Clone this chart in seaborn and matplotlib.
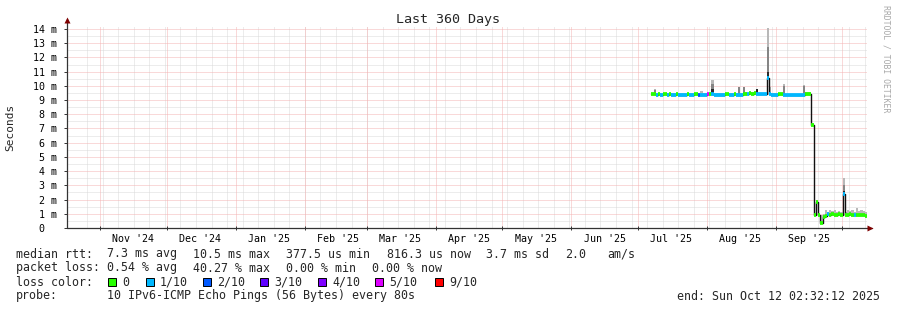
import numpy as np
import pandas as pd
import matplotlib
matplotlib.use("Agg")
import matplotlib.pyplot as plt
import seaborn as sns
from matplotlib.patches import Rectangle
from datetime import datetime, timedelta

# ---------------- data ----------------
START = datetime(2024, 10, 17, 2, 32, 12)
SPAN_DAYS = 360

days = list(range(263, 360))
median_ms = [
    9.40, 9.40, 9.38, 9.40, 9.38, 9.42, 9.40, 9.38, 9.40, 9.38,   # 263-272
    9.38, 9.40, 9.38, 9.38, 9.38, 9.38, 9.40, 9.38, 9.38, 9.40,   # 273-282
    9.40, 9.36, 9.38, 9.38, 9.38, 9.40, 9.40, 9.42, 9.38, 9.38,   # 283-292
    9.38, 9.38, 9.38, 9.40, 9.42, 9.38, 9.38, 9.42, 9.38, 9.38,   # 293-302
    9.38, 9.45, 9.45, 9.40, 9.48, 9.45, 9.48, 9.42, 9.40, 9.40,   # 303-312
    9.40, 9.42, 10.55, 9.40, 9.38, 9.38, 9.38, 9.40, 9.40, 9.36,  # 313-322
    9.36, 9.36, 9.36, 9.36, 9.36, 9.36, 9.36, 9.36, 9.36, 9.40,   # 323-332
    9.40, 9.40, 7.25, 0.90, 1.85, 0.90, 0.35, 0.80, 0.85, 0.95,   # 333-342
    0.90, 0.95, 0.90, 0.92, 0.95, 0.90, 2.40, 0.90, 0.92, 0.95,   # 343-352
    0.92, 0.90, 0.92, 0.88, 0.90, 0.88, 0.82,                     # 353-359
]
loss_idx = [
    0, 0, 1, 0, 1, 0, 0, 1, 0, 1,
    1, 0, 1, 1, 1, 1, 0, 1, 1, 0,
    0, 2, 1, 1, 1, 5, 0, 1, 1, 1,
    1, 1, 1, 0, 0, 1, 1, 0, 1, 1,
    1, 0, 0, 1, 0, 0, 0, 1, 1, 1,
    1, 1, 1, 1, 1, 1, 1, 0, 0, 1,
    1, 1, 1, 1, 1, 1, 1, 1, 1, 0,
    0, 0, 0, 0, 0, 0, 0, 0, 0, 1,
    0, 0, 0, 0, 0, 0, 1, 0, 0, 0,
    0, 1, 0, 0, 0, 0, 0,
]
smoke_max_ms = [
    9.50, 9.80, 9.48, 9.50, 9.48, 9.52, 9.50, 9.48, 9.50, 9.48,
    9.48, 9.50, 9.48, 9.48, 9.48, 9.48, 9.50, 9.48, 9.48, 9.50,
    9.50, 9.46, 9.65, 9.48, 9.48, 9.50, 9.50, 10.40, 9.48, 9.48,
    9.48, 9.48, 9.48, 9.50, 9.52, 9.48, 9.48, 9.52, 9.48, 9.95,
    9.48, 9.95, 9.55, 9.50, 9.58, 9.55, 9.58, 9.80, 9.50, 9.50,
    9.50, 9.52, 14.10, 9.90, 9.48, 9.48, 9.48, 9.50, 9.50, 10.10,
    9.46, 9.46, 9.46, 9.46, 9.46, 9.46, 9.46, 9.46, 10.05, 9.60,
    9.60, 9.60, 7.40, 1.00, 2.00, 1.00, 0.90, 1.00, 1.30, 1.10,
    1.30, 1.20, 1.30, 1.10, 1.20, 1.10, 3.50, 1.10, 1.30, 1.20,
    1.30, 1.10, 1.40, 1.20, 1.30, 1.20, 1.10,
]
spike_days = [264, 290, 302, 304, 310, 315, 322, 331, 349]
spike_mid_ms = [9.70, 10.10, 9.90, 9.90, 9.42, 12.70, 10.00, 10.00, 3.00]
spike_inner_ms = [9.40, 9.80, 9.38, 9.45, 9.80, 11.00, 9.36, 9.36, 2.60]

loss_labels = ["0", "1/10", "2/10", "3/10", "4/10", "5/10", "9/10"]
loss_colors = ["#26ff00", "#00b8ff", "#0059ff", "#5e00ff", "#7e00ff", "#dd00ff", "#ff0000"]

month_starts = [datetime(2024, 11, 1), datetime(2024, 12, 1), datetime(2025, 1, 1),
                datetime(2025, 2, 1), datetime(2025, 3, 1), datetime(2025, 4, 1),
                datetime(2025, 5, 1), datetime(2025, 6, 1), datetime(2025, 7, 1),
                datetime(2025, 8, 1), datetime(2025, 9, 1), datetime(2025, 10, 1)]
month_labels = ["Nov '24", "Dec '24", "Jan '25", "Feb '25", "Mar '25", "Apr '25",
                "May '25", "Jun '25", "Jul '25", "Aug '25", "Sep '25"]
first_week_line = datetime(2024, 10, 26, 4, 0)

y_ticks = list(range(0, 15))
y_tick_labels = ["0  "] + [f"{v} m" for v in range(1, 15)]

title = "Last 360 Days"
ylabel = "Seconds"
watermark = "RRDTOOL / TOBI OETIKER"
row1 = [(16, "median rtt:"), (107, "7.3 ms avg"), (193, "10.5 ms max"),
        (286, "377.5 us min"), (387, "816.3 us now"), (486, "3.7 ms sd"),
        (565, "2.0"), (607, "am/s")]
row2 = [(16, "packet loss:"), (107, "0.54 % avg"), (193, "40.27 % max"),
        (286, "0.00 % min"), (372, "0.00 % now")]
loss_box_x = [108, 146, 203, 260, 318, 375, 435]
row4 = [(16, "probe:"), (107, "10 IPv6-ICMP Echo Pings (56 Bytes) every 80s")]
end_text = "end: Sun Oct 12 02:32:12 2025"

# ---------------- figure ----------------
W, H = 897, 310
sns.set_theme(style="white")
plt.rcParams["font.family"] = ["DejaVu Sans Mono", "DejaVu Sans"]
fig = plt.figure(figsize=(W / 100, H / 100), dpi=100)
fig.patch.set_facecolor("white")

x0, x1, ytop, ybot = 67, 867, 27, 228
ax = fig.add_axes([x0 / W, 1 - ybot / H, (x1 - x0) / W, (ybot - ytop) / H])
ax.set_facecolor("white")
YMAX = 14.14
ax.set_xlim(0, SPAN_DAYS)
ax.set_ylim(0, YMAX)


def doff(dt):
    return (dt - START).total_seconds() / 86400.0


# grid (dotted)
dot = (0, (1, 1))
gkw = dict(lw=0.72, ls=dot)
wk = doff(first_week_line)
while wk < SPAN_DAYS:
    ax.axvline(wk, color="#dadada", zorder=0, **gkw)
    wk += 7
for v in np.arange(0.5, YMAX, 1.0):
    ax.axhline(v, color="#dadada", zorder=0, **gkw)
for m in month_starts:
    ax.axvline(doff(m), color="#f5b4b4", zorder=0.5, **gkw)
for v in range(1, 15):
    ax.axhline(v, color="#f5b4b4", zorder=0.5, **gkw)

d = np.array(days, dtype=float)
med = np.array(median_ms)
smax = np.array(smoke_max_ms)

# smoke
ax.bar(d, smax - med, bottom=med, width=1.0, align="edge",
       color="#b8b8b8", linewidth=0, zorder=2)
sd = np.array(spike_days, dtype=float)
smed = np.array([median_ms[days.index(k)] for k in spike_days])
ax.bar(sd, np.array(spike_mid_ms) - smed, bottom=smed, width=1.0, align="edge",
       color="#858585", linewidth=0, zorder=2.2)
ax.bar(sd, np.array(spike_inner_ms) - smed, bottom=smed, width=1.0, align="edge",
       color="#2a2a2a", linewidth=0, zorder=2.4)

# median (black step line)
df = pd.DataFrame({"day": list(d) + [d[-1] + 1], "median": list(med) + [med[-1]]})
sns.lineplot(data=df, x="day", y="median", ax=ax, color="#111111", lw=1.0,
             drawstyle="steps-post", zorder=3)

# loss-coloured median band
ax.hlines(med, d, d + 1, colors=[loss_colors[i] for i in loss_idx],
          linewidth=2.7, zorder=4)

# axes decoration
for s in ax.spines.values():
    s.set_visible(False)
axcol = "#333333"
ax.plot([0, 0], [0, 1.04], transform=ax.transAxes, color=axcol, lw=0.9,
        clip_on=False, zorder=5)
ax.plot([0, 1.006], [0, 0], transform=ax.transAxes, color=axcol, lw=0.9,
        clip_on=False, zorder=5)
ax.plot([0], [1.035], marker="^", ms=4.2, color="#7f0000", transform=ax.transAxes,
        clip_on=False, zorder=6, mec="none")
ax.plot([1.004], [0], marker=">", ms=4.2, color="#7f0000", transform=ax.transAxes,
        clip_on=False, zorder=6, mec="none")

ax.set_yticks(y_ticks)
ax.set_yticklabels(y_tick_labels)
ax.tick_params(axis="y", length=2.5, width=0.7, color=axcol, pad=4.5,
               labelsize=7.2, labelcolor="black", direction="out", left=True)
mids = [doff(m + timedelta(days=15)) for m in month_starts[:len(month_labels)]]
ax.set_xticks(mids)
ax.set_xticklabels(month_labels)
ax.tick_params(axis="x", length=0, pad=4, labelsize=7.2, labelcolor="black")
ax.set_xticks([doff(m) for m in month_starts], minor=True)
ax.tick_params(axis="x", which="minor", length=2.5, width=0.7, color=axcol,
               direction="inout", bottom=True)
ax.set_xlabel("")
ax.set_ylabel("")

# texts
mono = ["DejaVu Sans Mono", "DejaVu Sans"]


def put(x, y, s, size=8.4, ha="left", va="baseline", **kw):
    fig.text(x / W, 1 - y / H, s, ha=ha, va=va, fontsize=size, family=mono, **kw)


put(448, 19, title, size=9.6, ha="center", va="center")
put(10, 127, ylabel, size=8.0, ha="center", va="center", rotation=90)
put(886, 59, watermark, size=5.9, ha="center", va="center", rotation=270,
    color="#a8a8a8")

for x, s in row1:
    put(x, 257.5, s)
for x, s in row2:
    put(x, 271.5, s)
put(16, 285.5, "loss color:")
for bx, lab, col in zip(loss_box_x, loss_labels, loss_colors):
    fig.add_artist(Rectangle((bx / W, 1 - 286 / H), 8 / W, 8 / H,
                             transform=fig.transFigure, facecolor=col,
                             edgecolor="black", linewidth=0.7))
    put(bx + 14, 285.5, lab)
for x, s in row4:
    put(x, 299.5, s)
put(880, 299.5, end_text, ha="right")

fig.savefig("out.png", dpi=100, facecolor="white")
